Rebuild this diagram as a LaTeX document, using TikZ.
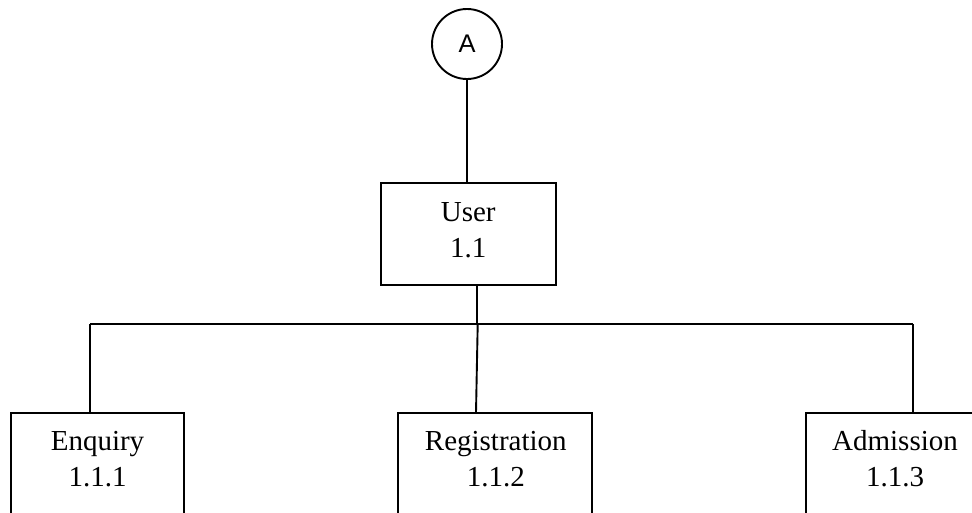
\documentclass[tikz,border=0pt]{standalone}
\usepackage{fontspec}
\setmainfont{Liberation Serif}
\newfontfamily\arialfont{Liberation Sans}
\begin{document}
\begin{tikzpicture}[x=1pt,y=-1pt,line width=1.9pt,
  boxnode/.style={draw,rectangle,inner sep=0pt},
  txt/.style={font=\fontsize{29}{36}\selectfont,anchor=base,inner sep=0pt}]
\useasboundingbox (0,0) rectangle (972,512);
\path[clip] (0,0) rectangle (972,512);
% top connector circle
\node[draw,circle,minimum size=70pt,inner sep=0pt,font=\arialfont\fontsize{25.5}{30}\selectfont] (A) at (467,44) {A};
% user box
\node[boxnode,minimum width=175pt,minimum height=101.7pt] (user) at (468.2,234.2) {};
\node[txt] (userT1) at (468.2,221.7) {User};
\node[txt] (userT2) at (468.2,257.7) {1.1};
% child boxes
\node[boxnode,minimum width=173.6pt,minimum height=146.7pt] (enq) at (97.5,486.7) {};
\node[txt] (enqT1) at (97.5,450.7) {Enquiry};
\node[txt] (enqT2) at (97.5,486.7) {1.1.1};
\node[boxnode,minimum width=193.4pt,minimum height=146.7pt] (reg) at (495,486.7) {};
\node[txt] (regT1) at (495.8,450) {Registration};
\node[txt] (regT2) at (495.8,486) {1.1.2};
\node[boxnode,minimum width=178pt,minimum height=146.7pt] (adm) at (895,486.7) {};
\node[txt] (admT1) at (895,450) {Admission};
\node[txt] (admT2) at (895,486) {1.1.3};
% connectors
\coordinate (busL) at (90,324.3);
\coordinate (busR) at (912.7,324.3);
\coordinate (regTop) at (477.7,324.3);
\draw (A.south) -- (A.south |- user.north);
\draw ([xshift=8.5pt]user.south) -- ([xshift=8.5pt]user.south |- busL);
\draw (busL) -- (busR);
\draw (busL) -- (busL |- enq.north);
\draw (busR) -- (busR |- adm.north);
\draw (regTop) -- ([xshift=-19pt]reg.north);
\end{tikzpicture}
\end{document}
